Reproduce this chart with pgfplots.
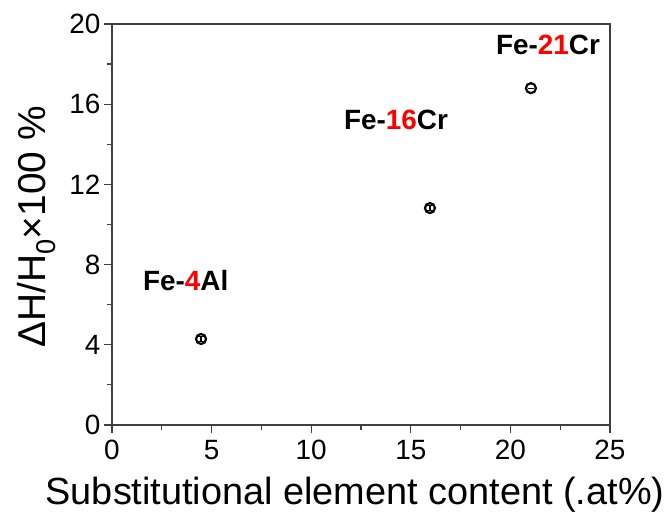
\documentclass[border=0pt]{standalone}
\usepackage{pgfplots}
\pgfplotsset{compat=1.18}
\usepackage{fontspec}
\setmainfont{Liberation Sans}
\begin{document}
\begin{tikzpicture}[x=1bp,y=1bp]
\begin{axis}[
    name=ax,
    scale only axis,
    width=498bp, height=401bp,
    xmin=0, xmax=25, ymin=0, ymax=20,
    xtick={0,5,...,25}, ytick={0,4,...,20},
    minor x tick num=1, minor y tick num=1,
    tick align=outside,
    major tick length=8bp, minor tick length=5bp,
    axis line style={line width=1.2pt, black!75},
    every tick/.style={line width=1.2pt, black!75},
    xtick pos=bottom, ytick pos=left,
    /pgf/number format/assume math mode=true,
    tick label style={font=\fontsize{28}{30}\selectfont},
    xticklabel style={yshift=-4bp},
    xlabel={Substitutional element content (.at\%)},
    ylabel={ΔH/H\textsubscript{0}×100 \%},
    xlabel style={font=\fontsize{38}{40}\selectfont, at={(axis description cs:0.488,0)}, anchor=base, yshift=-79bp},
    ylabel style={font=\fontsize{39}{40}\selectfont, at={(axis description cs:-0.1345,0.494)}, anchor=base},
    clip=false,
]
\addplot[only marks, mark=o, mark size=5bp, line width=2.2pt, black,
    error bars/.cd, y dir=both, y explicit, error bar style={line width=1.2pt},
    error mark options={rotate=90, mark size=3bp, line width=1.2pt}]
  coordinates {(4.47,4.29) +- (0,0.12) (15.96,10.82) +- (0,0.12) (21.03,16.8) +- (0,0)};
\node[font=\bfseries\fontsize{28}{32}\selectfont] at (axis cs:3.7,7.2) {Fe-\textcolor{red}{4}Al};
\node[font=\bfseries\fontsize{28}{32}\selectfont] at (axis cs:14.26,15.21) {Fe-\textcolor{red}{16}Cr};
\node[font=\bfseries\fontsize{28}{32}\selectfont] at (axis cs:21.89,18.95) {Fe-\textcolor{red}{21}Cr};
\end{axis}
\pgfresetboundingbox
\path (ax.south west) ++(-112bp,-88bp) coordinate (bl);
\path (ax.north east) ++(62bp,24bp) coordinate (tr);
\useasboundingbox (bl) rectangle (tr);
\end{tikzpicture}
\end{document}
